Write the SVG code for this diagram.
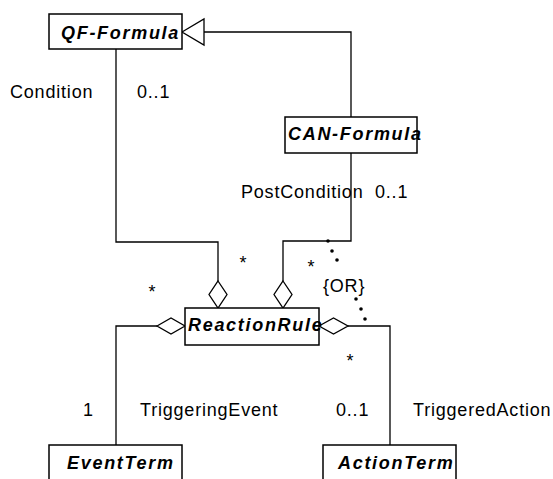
<svg xmlns="http://www.w3.org/2000/svg" width="553" height="479" viewBox="0 0 553 479">
<style>
.box{fill:#fff;stroke:#000;stroke-width:1.5}
.ln{fill:none;stroke:#000;stroke-width:1.3}
.dia{fill:#fff;stroke:#000;stroke-width:1.3}
.nm{font-family:"Liberation Sans",Arial,sans-serif;font-size:18px;font-weight:bold;font-style:italic;letter-spacing:1.7px;fill:#000}
.lb{font-family:"Liberation Sans",Arial,sans-serif;font-size:18px;letter-spacing:0.8px;fill:#000}
</style>
<rect width="553" height="479" fill="#fff"/>
<g id="connectors">
<path class="ln" d="M351 117 V32 H204"/>
<polygon class="dia" points="182,32 204,19 204,45"/>
<path class="ln" d="M116 49 V242 H218 V281"/>
<polygon class="dia" points="218,281 227,294.5 218,308 209,294.5"/>
<path class="ln" d="M351 153 V241 H283 V281"/>
<polygon class="dia" points="283,281 292,294.5 283,308 274,294.5"/>
<path class="ln" d="M116 445 V326 H157"/>
<polygon class="dia" points="157,326 171,318 185,326 171,334"/>
<path class="ln" d="M390 445 V326 H348"/>
<polygon class="dia" points="319,326 333.5,318 348,326 333.5,334"/>
<g fill="#000">
<circle cx="328" cy="241" r="1.8"/>
<circle cx="332" cy="251" r="1.8"/>
<circle cx="337" cy="260" r="1.8"/>
<circle cx="356" cy="299" r="1.8"/>
<circle cx="361" cy="309" r="1.8"/>
<circle cx="365" cy="319" r="1.8"/>
</g>
<text class="lb" x="10" y="98">Condition</text>
<text class="lb" x="137" y="98">0..1</text>
<text class="lb" x="241" y="198">PostCondition</text>
<text class="lb" x="375" y="198">0..1</text>
<text class="lb" x="239.5" y="269">*</text>
<text class="lb" x="307.5" y="273">*</text>
<text class="lb" x="148.5" y="298">*</text>
<text class="lb" x="346.5" y="367">*</text>
<text class="lb" x="323" y="292">{OR}</text>
<text class="lb" x="83" y="416">1</text>
<text class="lb" x="140" y="416">TriggeringEvent</text>
<text class="lb" x="336" y="416">0..1</text>
<text class="lb" x="413" y="416">TriggeredAction</text>
</g>
<g id="qf-formula">
<rect class="box" x="49" y="14" width="133" height="35"/>
<text class="nm" x="61" y="39">QF-Formula</text>
</g>
<g id="can-formula">
<rect class="box" x="285" y="117" width="132" height="36"/>
<text class="nm" x="288" y="140">CAN-Formula</text>
</g>
<g id="reaction-rule">
<rect class="box" x="185" y="308" width="134" height="37"/>
<text class="nm" x="188" y="331">ReactionRule</text>
</g>
<g id="event-term">
<rect class="box" x="49" y="445" width="133" height="45"/>
<text class="nm" x="67" y="469">EventTerm</text>
</g>
<g id="action-term">
<rect class="box" x="323" y="445" width="133" height="45"/>
<text class="nm" x="338" y="469">ActionTerm</text>
</g>
</svg>
